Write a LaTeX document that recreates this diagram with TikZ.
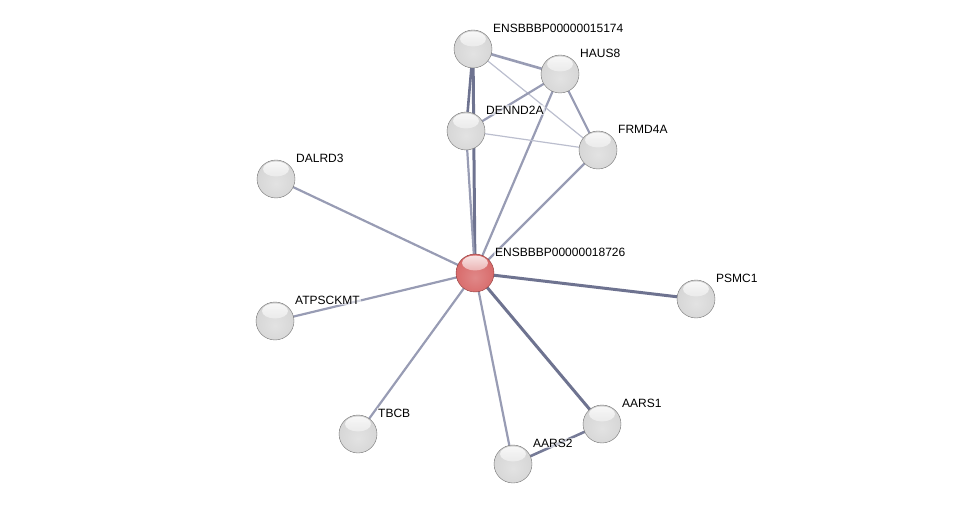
\documentclass[tikz,border=0pt]{standalone}
\usepackage{fontspec}
\setmainfont{Liberation Sans}
\usetikzlibrary{backgrounds,calc}
\definecolor{edgeD}{HTML}{6E7390}
\definecolor{edgeM}{HTML}{989CB4}
\definecolor{edgeL}{HTML}{BBBECE}
\definecolor{rbody}{HTML}{D86A6A}
\definecolor{rrim}{HTML}{8E3C3C}
\definecolor{gbody}{HTML}{D6D6D6}
\pgfdeclareradialshading{sphG}{\pgfpoint{0bp}{-6bp}}{color(0bp)=(gbody!70!white); color(26bp)=(gbody); color(40bp)=(gbody!88!black); color(48bp)=(gbody!60!black); color(56bp)=(gbody!45!black)}
\pgfdeclareradialshading{sphR}{\pgfpoint{0bp}{-6bp}}{color(0bp)=(rbody!80!white); color(26bp)=(rbody); color(40bp)=(rbody!90!black); color(48bp)=(rrim); color(56bp)=(rrim!80!black)}
\tikzset{
  hlcol/.initial=gbody,
  ball/.style={circle, minimum size=38pt, inner sep=0pt, shading=sphG, draw=black!55, line width=0.4pt,
    path picture={\shade[top color=white, bottom color=\pgfkeysvalueof{/tikz/hlcol}, opacity=0.85]
      ($(path picture bounding box.north)+(0,-9pt)$) ellipse (13pt and 7.5pt);}},
  redb/.style={ball, shading=sphR, draw=rrim, hlcol=rbody},
  lbl/.style={anchor=west, inner sep=1pt, font=\fontsize{12}{13}\selectfont, fill=white, fill opacity=0.6, text opacity=1},
  eD/.style={draw=edgeD, line width=3pt},
  eM/.style={draw=edgeM, line width=2.2pt},
  eL/.style={draw=edgeL, line width=1.2pt},
}
\begin{document}
\begin{tikzpicture}[x=1pt,y=-1pt]
\useasboundingbox (0,0) rectangle (976,510);
\node[ball] (e15) at (473,49) {};
\node[ball] (haus) at (560,74) {};
\node[ball] (denn) at (466,131) {};
\node[ball] (frmd) at (598,150) {};
\node[ball] (dalr) at (276,179) {};
\node[redb] (cen) at (475,273) {};
\node[ball] (psmc) at (696,299) {};
\node[ball] (atps) at (275,321) {};
\node[ball] (tbcb) at (358,434) {};
\node[ball] (aar1) at (602,424) {};
\node[ball] (aar2) at (513,464) {};
\begin{pgfonlayer}{background}
\draw[eD] (cen.center) -- (e15.center);
\draw[eM] (cen.center) -- (denn.center);
\draw[eM] (cen.center) -- (haus.center);
\draw[eM] (cen.center) -- (frmd.center);
\draw[eM] (cen.center) -- (dalr.center);
\draw[eM] (cen.center) -- (atps.center);
\draw[eM] (cen.center) -- (tbcb.center);
\draw[eM] (cen.center) -- (aar2.center);
\draw[eD] (cen.center) -- (aar1.center);
\draw[eD] (cen.center) -- (psmc.center);
\draw[eD, line width=2.6pt, draw=edgeD!80!edgeM] (aar1.center) -- (aar2.center);
\draw[eM, line width=2.6pt] (e15.center) -- (haus.center);
\draw[eD, line width=2.6pt] (e15.center) -- (denn.center);
\draw[eL] (e15.center) -- (frmd.center);
\draw[eM] (haus.center) -- (denn.center);
\draw[eM] (haus.center) -- (frmd.center);
\draw[eL] (denn.center) -- (frmd.center);
\end{pgfonlayer}
\node[lbl] (l1) at ($(e15)+(19,-21)$) {ENSBBBP00000015174};
\node[lbl] (l2) at ($(haus)+(19,-21)$) {HAUS8};
\node[lbl] (l3) at ($(denn)+(19,-21)$) {DENND2A};
\node[lbl] (l4) at ($(frmd)+(19,-21)$) {FRMD4A};
\node[lbl] (l5) at ($(dalr)+(19,-21)$) {DALRD3};
\node[lbl] (l6) at ($(cen)+(19,-21)$) {ENSBBBP00000018726};
\node[lbl] (l7) at ($(psmc)+(19,-21)$) {PSMC1};
\node[lbl] (l8) at ($(atps)+(19,-21)$) {ATPSCKMT};
\node[lbl] (l9) at ($(tbcb)+(19,-21)$) {TBCB};
\node[lbl] (l10) at ($(aar1)+(19,-21)$) {AARS1};
\node[lbl] (l11) at ($(aar2)+(19,-21)$) {AARS2};
\end{tikzpicture}
\end{document}
